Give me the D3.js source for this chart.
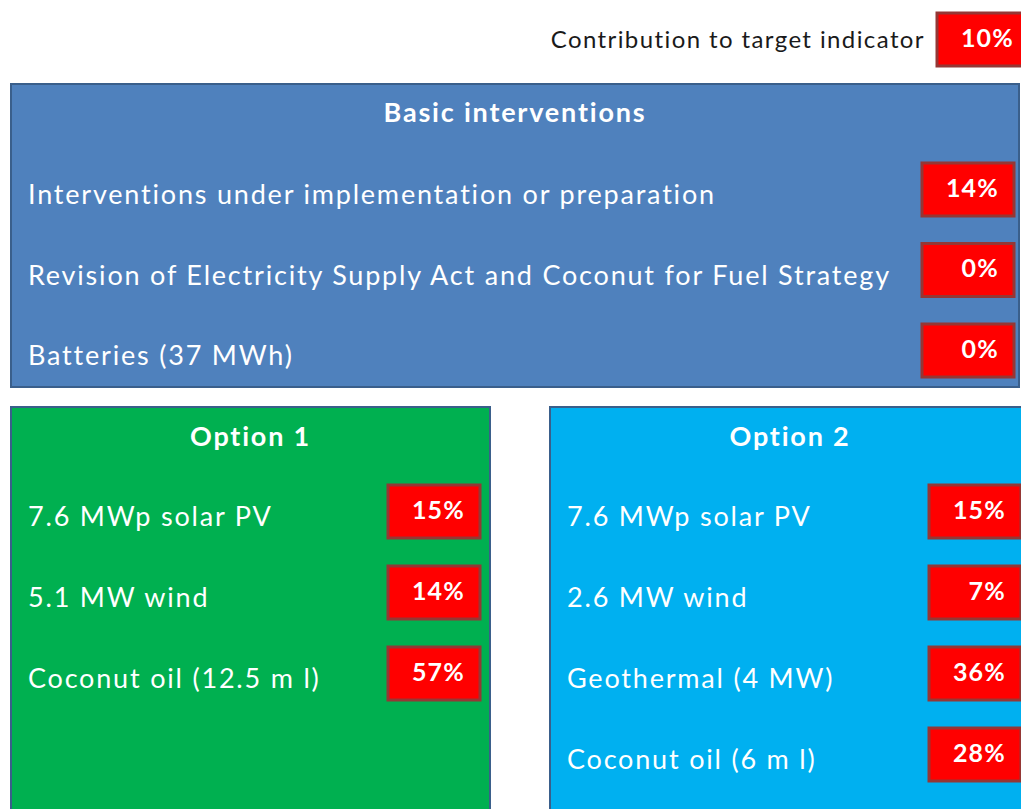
<!DOCTYPE html>
<html>
<head>
<meta charset="utf-8">
<script src="https://cdn.jsdelivr.net/npm/d3@7"></script>
<style>
  body { margin: 0; background: #fff; }
  svg { display: block; font-family: Lato, "Open Sans", sans-serif; }
  .label { fill: #fff; font-size: 27px; letter-spacing: 1.8px; }
  .title { fill: #fff; font-size: 27px; font-weight: bold; letter-spacing: 1.8px; }
  .badge rect { fill: #ff0000; stroke: #953735; stroke-width: 3; }
  .badge text { fill: #fff; font-size: 25px; font-weight: bold; text-anchor: end; letter-spacing: 1.2px; }
</style>
</head>
<body>
<svg id="chart" width="1021" height="809"></svg>
<script>
// values
const targetLabel = 'Contribution to target indicator';
const targetValue = 10;

const basicTitle = 'Basic interventions';
const basicLabels = [
  'Interventions under implementation or preparation',
  'Revision of Electricity Supply Act and Coconut for Fuel Strategy',
  'Batteries (37 MWh)'
];
const basicValues = [14, 0, 0];

const option1Title = 'Option 1';
const option1Labels = ['7.6 MWp solar PV', '5.1 MW wind', 'Coconut oil (12.5 m l)'];
const option1Values = [15, 14, 57];

const option2Title = 'Option 2';
const option2Labels = ['7.6 MWp solar PV', '2.6 MW wind', 'Geothermal (4 MW)', 'Coconut oil (6 m l)'];
const option2Values = [15, 7, 36, 28];

const svg = d3.select('#chart');
const pct = d3.format('d');

function badge(g, x, y, value) {
    const b = g.append('g').attr('class', 'badge')
        .attr('transform', `translate(${x},${y})`);
    b.append('rect').attr('x', 0).attr('y', -26).attr('width', 92).attr('height', 53);
    b.append('text').attr('x', 77).attr('y', 0).attr('dy', '0.3em').text(pct(value) + '%');
}

// panel: box, title, rows of label + badge
function panel(opts) {
    const g = svg.append('g');
    g.append('rect')
        .attr('x', opts.x).attr('y', opts.y)
        .attr('width', opts.w).attr('height', opts.h)
        .attr('fill', opts.fill)
        .attr('stroke', '#3a5f8b').attr('stroke-width', 2);

    g.append('text').attr('class', 'title')
        .attr('x', opts.x + opts.w / 2).attr('y', opts.titleY)
        .attr('dy', '0.35em').attr('text-anchor', 'middle')
        .text(opts.title);

    const yScale = d3.scalePoint()
        .domain(d3.range(opts.labels.length))
        .range(opts.rowRange);

    opts.labels.forEach((label, i) => {
        g.append('text').attr('class', 'label')
            .attr('x', opts.x + 17).attr('y', yScale(i))
            .attr('dy', '0.35em')
            .text(label);
        badge(g, opts.badgeX, yScale(i) - 6, opts.values[i]);
    });
}

panel({
    x: 11, y: 84, w: 1008, h: 303, fill: '#4f81bd',
    title: basicTitle, titleY: 113,
    labels: basicLabels, values: basicValues,
    rowRange: [195, 356], badgeX: 922
});

panel({
    x: 11, y: 407, w: 479, h: 410, fill: '#00b050',
    title: option1Title, titleY: 437,
    labels: option1Labels, values: option1Values,
    rowRange: [517, 679], badgeX: 388
});

panel({
    x: 550, y: 407, w: 480, h: 410, fill: '#00b0f0',
    title: option2Title, titleY: 437,
    labels: option2Labels, values: option2Values,
    rowRange: [517, 760], badgeX: 929
});

// top indicator
svg.append('text')
    .attr('x', 925).attr('y', 40).attr('dy', '0.35em')
    .attr('text-anchor', 'end')
    .attr('font-size', 24).attr('letter-spacing', '1.4px').attr('fill', '#1a1a1a')
    .text(targetLabel);
badge(svg, 937, 39, targetValue);
</script>
</body>
</html>
